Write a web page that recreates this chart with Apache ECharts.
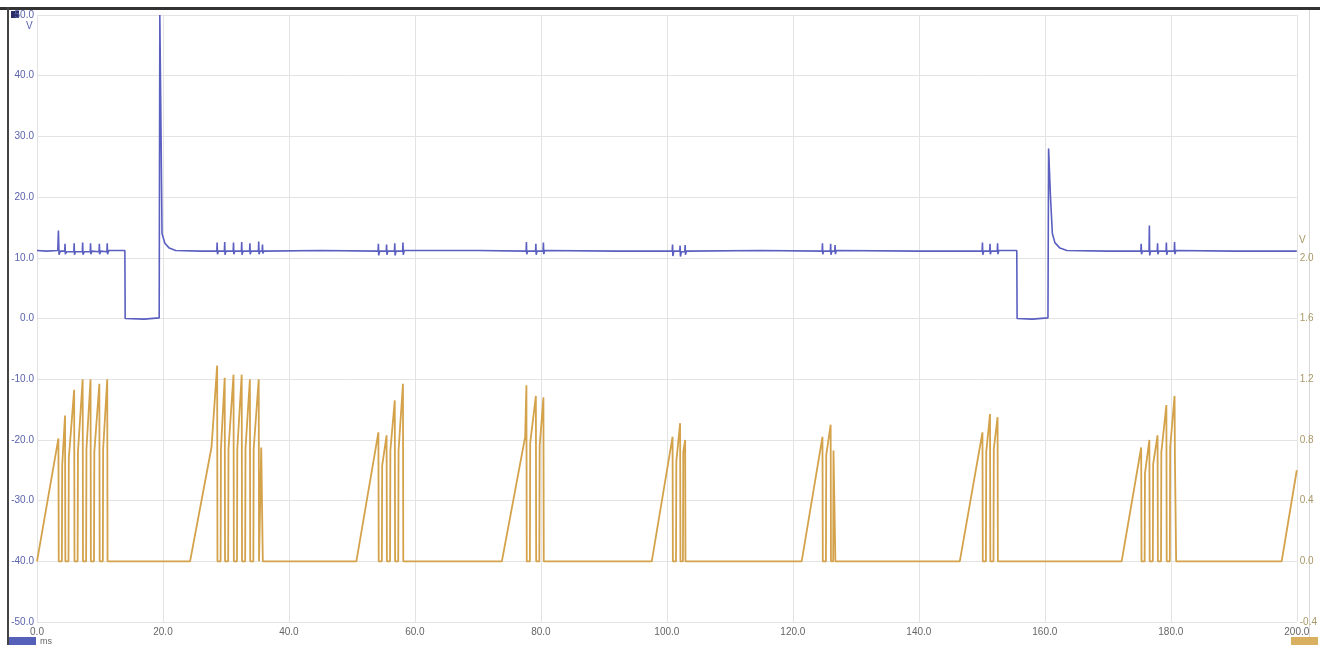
<!DOCTYPE html>
<html>
<head>
<meta charset="utf-8">
<script src="https://cdn.jsdelivr.net/npm/echarts@6/dist/echarts.min.js"></script>
<style>html,body{margin:0;padding:0;background:#fff}#c{width:1320px;height:645px}</style>
</head>
<body>
<div id="c"></div>
<script>
// Time axis (ms) and scales
const timeRange = [0, 200];
const voltRange = [-50, 50];
const rightRange = [-0.4, 3.6];

// Channel A (blue, left axis, V): [time ms, volts]
const blueTrace = [
  [0,11.2],[1.5,11.1],[3.3,11.2],[3.4,14.5],[3.5,10.5],[3.7,11.1],
  [4.4,11.1],[4.45,12.3],[4.5,10.6],[4.7,11.0],
  [5.85,11.0],[5.9,12.4],[5.95,10.5],[6.1,11.0],
  [7.2,11.0],[7.25,12.5],[7.3,10.5],[7.5,11.0],
  [8.45,11.0],[8.5,12.4],[8.55,10.6],[8.7,11.1],
  [9.85,11.0],[9.9,12.3],[9.95,10.6],[10.1,11.1],
  [11.1,11.0],[11.15,12.4],[11.2,10.6],[11.4,11.2],
  [13.95,11.2],[14.0,0],[14.1,-0.2],[17.0,-0.1],[19.4,0.1],
  [19.5,50],[19.7,30],[19.85,14],[20.3,12.4],[21.0,11.6],[22.0,11.2],
  [26.0,11.1],[28.55,11.1],[28.6,12.5],[28.65,10.6],[28.8,11.1],
  [29.75,11.1],[29.8,12.6],[29.85,10.5],[30.0,11.1],
  [31.15,11.1],[31.2,12.5],[31.25,10.6],[31.4,11.1],
  [32.45,11.1],[32.5,12.6],[32.55,10.5],[32.7,11.1],
  [33.75,11.1],[33.8,12.4],[33.85,10.6],[34.0,11.1],
  [35.15,11.1],[35.2,12.7],[35.25,10.6],[35.4,11.1],
  [35.75,11.1],[35.8,12.2],[35.85,10.7],[36.0,11.1],
  [45.0,11.2],[54.15,11.1],[54.2,12.3],[54.25,10.4],[54.4,11.1],
  [55.45,11.1],[55.5,12.2],[55.55,10.5],[55.7,11.1],
  [56.75,11.1],[56.8,12.4],[56.85,10.4],[57.0,11.1],
  [58.05,11.1],[58.1,12.5],[58.15,10.5],[58.3,11.2],
  [70.0,11.2],[77.65,11.1],[77.7,12.6],[77.75,10.6],[77.9,11.1],
  [79.15,11.1],[79.2,12.3],[79.25,10.5],[79.4,11.1],
  [80.35,11.1],[80.4,12.5],[80.45,10.6],[80.6,11.2],
  [92.0,11.1],[100.85,11.1],[100.9,12.2],[100.95,10.3],[101.1,11.1],
  [102.05,11.1],[102.1,12.0],[102.15,10.2],[102.3,11.0],
  [102.85,11.0],[102.9,12.1],[102.95,10.5],[103.1,11.1],
  [115.0,11.2],[124.65,11.1],[124.7,12.4],[124.75,10.6],[124.9,11.1],
  [125.95,11.1],[126.0,12.3],[126.05,10.5],[126.2,11.1],
  [126.65,11.1],[126.7,12.1],[126.75,10.6],[126.9,11.2],
  [140.0,11.1],[150.05,11.1],[150.1,12.5],[150.15,10.5],[150.3,11.1],
  [151.25,11.1],[151.3,12.3],[151.35,10.6],[151.5,11.1],
  [152.45,11.1],[152.5,12.4],[152.55,10.6],[152.7,11.2],
  [155.55,11.2],[155.6,0],[155.7,-0.2],[158.0,-0.1],[160.5,0.1],
  [160.6,28],[160.9,20],[161.2,14],[161.6,12.5],[162.4,11.6],[163.5,11.2],
  [170.0,11.1],[175.25,11.1],[175.3,12.3],[175.35,10.6],[175.5,11.1],
  [176.55,11.1],[176.6,15.3],[176.65,10.4],[176.8,11.1],
  [177.85,11.1],[177.9,12.4],[177.95,10.6],[178.1,11.1],
  [179.25,11.1],[179.3,12.5],[179.35,10.5],[179.5,11.1],
  [180.55,11.1],[180.6,12.6],[180.65,10.6],[180.8,11.2],
  [190.0,11.1],[200.0,11.1]
];

// Channel B (gold, right axis): [time ms, value]
const goldTrace = [
  [0,0],[3.4,0.81],[3.45,0],[3.95,0],[4.0,0.63],[4.45,0.96],[4.5,0],[5.0,0],[5.05,0.68],
  [5.9,1.13],[5.95,0],[6.45,0],[6.5,0.72],[7.25,1.2],[7.3,0],[7.8,0],[7.85,0.74],
  [8.5,1.2],[8.55,0],[9.05,0],[9.1,0.72],[9.9,1.17],[9.95,0],[10.45,0],[10.5,0.74],
  [11.15,1.2],[11.2,0],
  [24.3,0],[27.7,0.75],[28.6,1.29],[28.65,0],[29.15,0],[29.2,0.74],[29.8,1.21],[29.85,0],[30.35,0],[30.4,0.74],
  [31.2,1.23],[31.25,0],[31.75,0],[31.8,0.74],[32.5,1.23],[32.55,0],[33.05,0],[33.1,0.74],
  [33.8,1.2],[33.85,0],[34.35,0],[34.4,0.74],[35.2,1.2],[35.25,0],[35.55,0],[35.6,0.75],[35.8,0.75],[35.85,0],
  [50.7,0],[54.2,0.85],[54.25,0],[54.75,0],[54.8,0.63],[55.5,0.83],[55.55,0],[56.05,0],[56.1,0.73],
  [56.8,1.06],[56.85,0],[57.35,0],[57.4,0.73],[58.1,1.17],[58.15,0],
  [73.8,0],[77.5,0.82],[77.7,1.16],[77.75,0],[78.25,0],[78.3,0.78],[79.2,1.09],[79.25,0],[79.75,0],[79.8,0.76],
  [80.4,1.08],[80.45,0],
  [97.6,0],[100.9,0.82],[100.95,0],[101.45,0],[101.5,0.66],[102.1,0.91],[102.15,0],[102.55,0],[102.6,0.72],
  [102.9,0.80],[102.95,0],
  [121.4,0],[124.7,0.82],[124.75,0],[125.25,0],[125.3,0.7],[126.0,0.90],[126.05,0],[126.4,0],[126.45,0.73],
  [126.7,0.73],[126.75,0],
  [146.5,0],[150.1,0.85],[150.15,0],[150.65,0],[150.7,0.72],[151.3,0.97],[151.35,0],[151.85,0],[151.9,0.74],
  [152.5,0.95],[152.55,0],
  [172.2,0],[175.3,0.75],[175.35,0],[175.85,0],[175.9,0.58],[176.6,0.80],[176.65,0],[177.15,0],[177.2,0.64],
  [177.9,0.83],[177.95,0],[178.45,0],[178.5,0.72],[179.3,1.03],[179.35,0],[179.85,0],[179.9,0.75],
  [180.6,1.09],[180.65,0.70],[180.8,0.70],[180.85,0],
  [197.6,0],[200,0.6]
];

const blueColor = '#5a5fc0';
const goldColor = '#d4a24a';

const chart = echarts.init(document.getElementById('c'), null, {renderer:'canvas'});
chart.setOption({
  animation: false,
  backgroundColor: '#ffffff',
  grid: {left: 37, right: 23, top: 15, bottom: 23, containLabel: false},
  xAxis: {
    type: 'value', min: timeRange[0], max: timeRange[1], interval: 20,
    axisLine: {show: false}, axisTick: {show: false},
    axisLabel: {color: '#666', fontSize: 10, fontFamily: 'Liberation Sans', margin: 5,
      formatter: v => v.toFixed(1)},
    splitLine: {show: true, lineStyle: {color: '#e3e3e3', width: 1}}
  },
  yAxis: [
    {
      type: 'value', min: voltRange[0], max: voltRange[1], interval: 10, position: 'left',
      axisLine: {show: false}, axisTick: {show: false},
      axisLabel: {color: '#5a62aa', fontSize: 10, fontFamily: 'Liberation Sans', margin: 3,
        formatter: v => v.toFixed(1)},
      splitLine: {show: true, lineStyle: {color: '#e3e3e3', width: 1}}
    },
    {
      type: 'value', min: rightRange[0], max: rightRange[1], interval: 0.4, position: 'right',
      axisLine: {show: false}, axisTick: {show: false},
      axisLabel: {color: '#a89868', fontSize: 10, fontFamily: 'Liberation Sans', margin: 3,
        formatter: v => (v <= 2.001 ? v.toFixed(1) : '')},
      splitLine: {show: false}
    }
  ],
  series: [
    {
      type: 'line', name: 'A', xAxisIndex: 0, yAxisIndex: 0, data: blueTrace,
      showSymbol: false, symbol: 'none', clip: true,
      lineStyle: {color: blueColor, width: 1.6}, z: 3
    },
    {
      type: 'line', name: 'B', xAxisIndex: 0, yAxisIndex: 1, data: goldTrace,
      showSymbol: false, symbol: 'none', clip: true,
      lineStyle: {color: goldColor, width: 1.8}, z: 2
    }
  ],
  graphic: [
    {type: 'rect', shape: {x: 0, y: 7, width: 1320, height: 3}, style: {fill: '#333'}, silent: true},
    {type: 'rect', shape: {x: 7, y: 7, width: 2, height: 638}, style: {fill: '#444'}, silent: true},
    {type: 'rect', shape: {x: 1309, y: 10, width: 1, height: 635}, style: {fill: '#d8d8d8'}, silent: true},
    {type: 'rect', shape: {x: 11, y: 11, width: 8, height: 7}, style: {fill: '#2a2f6a'}, silent: true},
    {type: 'text', left: 26, top: 21, style: {text: 'V', fill: '#5a62aa', font: '10px "Liberation Sans"'}},
    {type: 'text', left: 1299, top: 235, style: {text: 'V', fill: '#a89868', font: '10px "Liberation Sans"'}},
    {type: 'rect', shape: {x: 9, y: 637, width: 27, height: 8}, style: {fill: '#5560b8'}, silent: true},
    {type: 'text', left: 40, top: 637, style: {text: 'ms', fill: '#666', font: '9px "Liberation Sans"'}},
    {type: 'rect', shape: {x: 1291, y: 637, width: 27, height: 8}, style: {fill: '#d8b060'}, silent: true}
  ]
});
</script>
</body>
</html>
